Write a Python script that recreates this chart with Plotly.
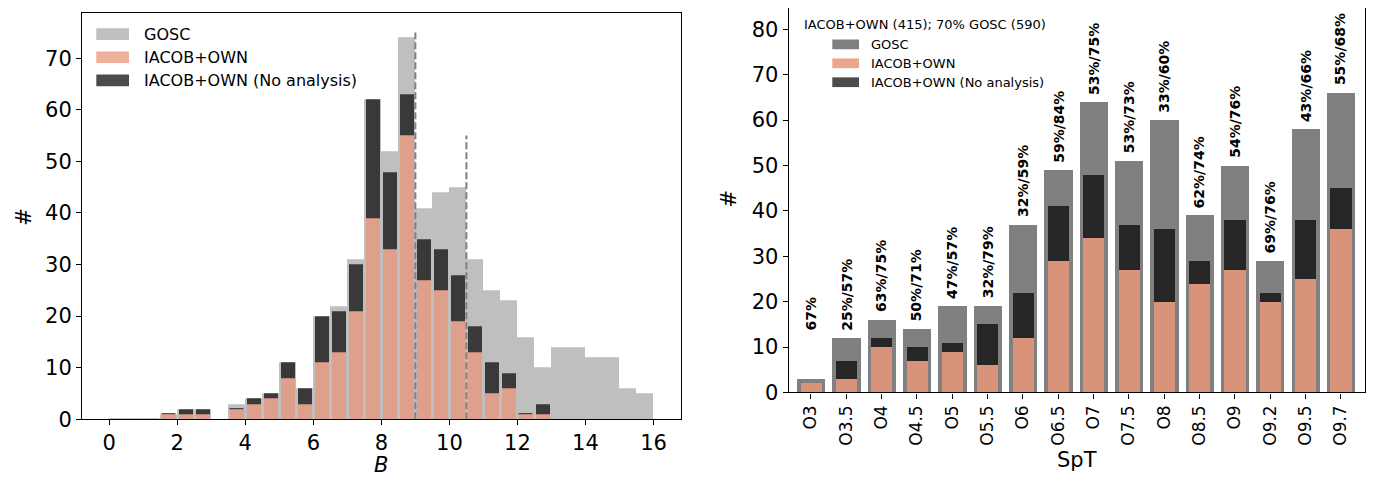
import plotly.graph_objects as go

W, H = 1374, 481

# ---------------- Left panel data (histogram of B, bins of 0.5 from 0 to 16)
bin_left = [i * 0.5 for i in range(32)]
gosc_counts = [0, 0, 0, 1, 2, 2, 0, 3, 4, 5, 11, 6, 20, 22, 31, 62,
               52, 74, 41, 44, 45, 31, 25, 23, 16, 10, 14, 14, 12, 12, 6, 5]
iacob_total = [0, 0, 0, 1, 2, 2, 0, 2, 4, 5, 11, 6, 20, 21, 30, 62,
               48, 63, 35, 33, 28, 18, 11, 9, 1, 3, 0, 0, 0, 0, 0, 0]
iacob_analysed = [0, 0, 0, 1, 1, 1, 0, 2, 3, 4, 8, 3, 11, 13, 21, 39,
                  33, 55, 27, 25, 19, 13, 5, 6, 1, 1, 0, 0, 0, 0, 0, 0]
vline_x = [9.0, 10.5]
vline_top = [75, 55]

# ---------------- Right panel data (spectral types)
spt = ["O3", "O3.5", "O4", "O4.5", "O5", "O5.5", "O6", "O6.5", "O7", "O7.5",
       "O8", "O8.5", "O9", "O9.2", "O9.5", "O9.7"]
spt_gosc = [3, 12, 16, 14, 19, 19, 37, 49, 64, 51, 60, 39, 50, 29, 58, 66]
spt_total = [2, 7, 12, 10, 11, 15, 22, 41, 48, 37, 36, 29, 38, 22, 38, 45]
spt_analysed = [2, 3, 10, 7, 9, 6, 12, 29, 34, 27, 20, 24, 27, 20, 25, 36]
spt_labels = ["67%", "25%/57%", "63%/75%", "50%/71%", "47%/57%", "32%/79%",
              "32%/59%", "59%/84%", "53%/75%", "53%/73%", "33%/60%", "62%/74%",
              "54%/76%", "69%/76%", "43%/66%", "55%/68%"]
legend_title_right = "IACOB+OWN (415); 70% GOSC (590)"
legend_names = ["GOSC", "IACOB+OWN", "IACOB+OWN (No analysis)"]

FONT = "DejaVu Sans"
L_GRAY = "rgb(191,191,191)"
L_SALMON = "rgba(233,150,122,0.75)"
L_DARK = "rgba(0,0,0,0.7)"
R_GRAY = "rgb(128,128,128)"
R_SALMON = "rgba(233,150,122,0.85)"
R_DARK = "rgba(0,0,0,0.7)"


def px(x):
    return x / W


def py(y):
    return 1 - y / H


bin_centres = [b + 0.25 for b in bin_left]
nodata = [t - a for t, a in zip(iacob_total, iacob_analysed)]
# thin top edge where every IACOB star was analysed
edge_w = [1.2 if (n == 0 and t > 0) else 0 for n, t in zip(nodata, iacob_total)]
gosc_edge = [1.2 if g == 0 and b < 2 else 0 for g, b in zip(gosc_counts, bin_left)]

fig = go.Figure()

# Left panel
fig.add_trace(go.Bar(x=bin_centres, y=gosc_counts, width=0.5,
                     marker=dict(color=L_GRAY, line=dict(width=gosc_edge, color=L_GRAY)),
                     xaxis="x", yaxis="y", showlegend=False))
fig.add_trace(go.Bar(x=bin_centres, y=iacob_analysed, width=0.42,
                     marker=dict(color=L_SALMON, line=dict(width=0)),
                     xaxis="x", yaxis="y", showlegend=False))
fig.add_trace(go.Bar(x=bin_centres, y=nodata, base=iacob_analysed, width=0.42,
                     marker=dict(color=L_DARK, line=dict(width=edge_w, color="rgba(40,40,40,0.8)")),
                     xaxis="x", yaxis="y", showlegend=False))
for vx, vt in zip(vline_x, vline_top):
    fig.add_trace(go.Scatter(x=[vx, vx], y=[0, vt], mode="lines",
                             line=dict(color="rgb(128,128,128)", width=2, dash="7px,3px"),
                             xaxis="x", yaxis="y", showlegend=False, hoverinfo="skip"))

# Right panel
spt_nodata = [t - a for t, a in zip(spt_total, spt_analysed)]
fig.add_trace(go.Bar(x=spt, y=spt_gosc, width=0.8,
                     marker=dict(color=R_GRAY, line=dict(width=0)),
                     xaxis="x2", yaxis="y2", showlegend=False))
fig.add_trace(go.Bar(x=spt, y=spt_analysed, width=0.6,
                     marker=dict(color=R_SALMON, line=dict(width=0)),
                     xaxis="x2", yaxis="y2", showlegend=False))
fig.add_trace(go.Bar(x=spt, y=spt_nodata, base=spt_analysed, width=0.6,
                     marker=dict(color=R_DARK, line=dict(width=0)),
                     xaxis="x2", yaxis="y2", showlegend=False))

annotations = []
for s, g, lab in zip(spt, spt_gosc, spt_labels):
    annotations.append(dict(x=s, y=max(g, 12) + 1.2, xref="x2", yref="y2",
                            text="<b>" + lab + "</b>", textangle=-90, showarrow=False,
                            xanchor="center", yanchor="bottom",
                            font=dict(family=FONT, size=14, color="black")))

# axis titles
title_font = dict(family=FONT, size=21, color="black")
annotations += [
    dict(x=px(16), y=py(214), xref="paper", yref="paper", text="#", textangle=-90,
         showarrow=False, xanchor="center", yanchor="middle", font=title_font),
    dict(x=px(373.4), y=py(469), xref="paper", yref="paper", text="<i>B</i>",
         showarrow=False, xanchor="center", yanchor="middle", font=title_font),
    dict(x=px(721.5), y=py(196), xref="paper", yref="paper", text="#", textangle=-90,
         showarrow=False, xanchor="center", yanchor="middle", font=title_font),
    dict(x=px(1068.7), y=py(464), xref="paper", yref="paper", text="SpT",
         showarrow=False, xanchor="center", yanchor="middle", font=title_font),
]

shapes = []
# Left legend
left_cols = [L_GRAY, L_SALMON, L_DARK]
for i, (nm, col) in enumerate(zip(legend_names, left_cols)):
    yc = 26.7 + 23.8 * i
    shapes.append(dict(type="rect", xref="paper", yref="paper",
                       x0=px(88.3), x1=px(121), y0=py(yc - 6), y1=py(yc + 6),
                       fillcolor=col, line=dict(width=0)))
    annotations.append(dict(x=px(134), y=py(yc), xref="paper", yref="paper", text=nm,
                            showarrow=False, xanchor="left", yanchor="middle",
                            font=dict(family=FONT, size=16, color="black")))
# Right legend
annotations.append(dict(x=px(793.5), y=py(16.5), xref="paper", yref="paper",
                        text=legend_title_right, showarrow=False, xanchor="left",
                        yanchor="middle", font=dict(family=FONT, size=13, color="black")))
right_cols = [R_GRAY, R_SALMON, R_DARK]
for i, (nm, col) in enumerate(zip(legend_names, right_cols)):
    yc = 37.3 + 19.4 * i
    shapes.append(dict(type="rect", xref="paper", yref="paper",
                       x0=px(824.3), x1=px(851), y0=py(yc - 5), y1=py(yc + 5),
                       fillcolor=col, line=dict(width=0)))
    annotations.append(dict(x=px(861), y=py(yc), xref="paper", yref="paper", text=nm,
                            showarrow=False, xanchor="left", yanchor="middle",
                            font=dict(family=FONT, size=13, color="black")))

axis_common = dict(showgrid=False, zeroline=False, showline=True, linecolor="black",
                   linewidth=1.1, ticks="outside", ticklen=5, tickwidth=1.1,
                   tickcolor="black", tickfont=dict(family=FONT, size=21, color="black"))

fig.update_layout(
    width=W, height=H, margin=dict(l=0, r=0, t=0, b=0),
    paper_bgcolor="white", plot_bgcolor="white", barmode="overlay",
    bargap=0, showlegend=False,
    xaxis=dict(domain=[px(74), px(672.7)], range=[-0.8, 16.8], tickmode="array",
               tickvals=list(range(0, 17, 2)), mirror=True, anchor="y", **axis_common),
    yaxis=dict(domain=[py(421.7), py(5.3)], range=[0, 78.75], tickmode="array",
               tickvals=list(range(0, 71, 10)), mirror=True, anchor="x", **axis_common),
    xaxis2=dict(domain=[px(780.7), px(1356.7)], range=[-0.63, 15.68], type="category",
                tickangle=-90, anchor="y2", mirror=False,
                **{**axis_common, "tickfont": dict(family=FONT, size=17, color="black")}),
    yaxis2=dict(domain=[py(394.3), 1.0], range=[0, 84.7], tickmode="array",
                tickvals=list(range(0, 81, 10)), mirror=True, anchor="x2", **axis_common),
    annotations=annotations, shapes=shapes,
)

fig.write_html("out.html")
